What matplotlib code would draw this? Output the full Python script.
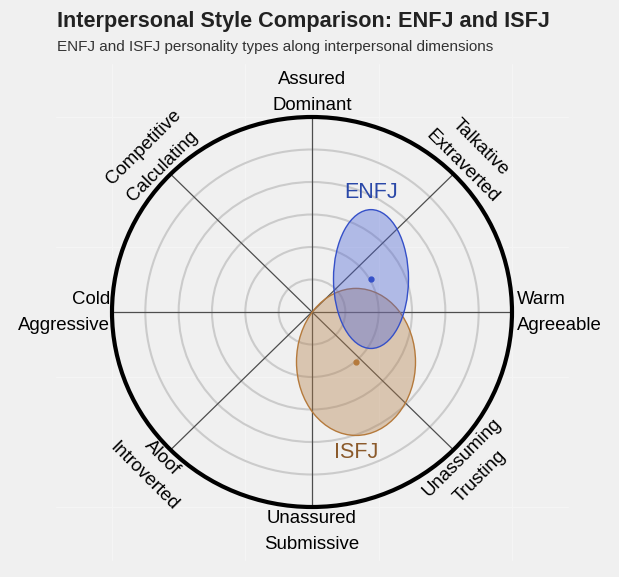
import numpy as np
import matplotlib
matplotlib.use('Agg')
import matplotlib.pyplot as plt
from matplotlib.patches import Ellipse

plt.rcParams['font.family'] = ['Liberation Sans', 'DejaVu Sans']

# personality types: centre and spread on the circumplex (outer ring = 1)
types = ['ENFJ', 'ISFJ']
center_x = [0.295, 0.22]
center_y = [0.169, -0.256]
spread_x = [0.1875, 0.2975]
spread_y = [0.356, 0.377]
fill_colors = ['#4a62d8', '#b5804a']
edge_colors = ['#3550c8', '#b57a3c']
label_colors = ['#2a48a8', '#8b5a2b']
label_y = [0.615, -0.718]

# octant labels (first line, second line) and their directions in degrees
axis_angles = [90, 45, 0, -45, -90, -135, 180, 135]
axis_lines1 = ['Assured', 'Talkative', 'Warm', 'Unassuming',
               'Unassured', 'Aloof', 'Cold', 'Competitive']
axis_lines2 = ['Dominant', 'Extraverted', 'Agreeable', 'Trusting',
               'Submissive', 'Introverted', 'Aggressive', 'Calculating']

ring_radii = [1/6, 2/6, 3/6, 4/6, 5/6]
bg = '#f0f0f0'

# pixels per data unit (panel is slightly flattened, as in the original)
sx, sy = 200, 195
cx, cy = 312, 312

fig = plt.figure(figsize=(6.19, 5.77), dpi=100)
fig.patch.set_facecolor(bg)
ax = fig.add_axes([0, 0, 1, 1])
ax.set_facecolor(bg)
ax.set_xlim(-cx / sx, (619 - cx) / sx)
ax.set_ylim((cy - 577) / sy, cy / sy)
ax.axis('off')

# faint panel grid in the background
for gx in [-1, -1/3, 1/3, 1]:
    ax.plot([gx, gx], [-1.27, 1.27], color='#f6f6f6', lw=0.6, zorder=0)
for gy in [-1, -1/3, 1/3, 1]:
    ax.plot([-1.28, 1.28], [gy, gy], color='#f6f6f6', lw=0.6, zorder=0)

# rings
for r in ring_radii:
    ax.add_patch(Ellipse((0, 0), 2 * r, 2 * r, fill=False, ec='#cbcbcb', lw=1.5, zorder=1))
ax.add_patch(Ellipse((0, 0), 2, 2, fill=False, ec='black', lw=3, zorder=4))

# spokes
for a in [0, 45, 90, 135]:
    t = np.radians(a)
    ax.plot([-np.cos(t), np.cos(t)], [-np.sin(t), np.sin(t)],
            color='#4d4d4d', lw=0.9, zorder=2)

# ellipses, ISFJ underneath
for i in [1, 0]:
    ax.add_patch(Ellipse((center_x[i], center_y[i]), 2 * spread_x[i], 2 * spread_y[i],
                         fc=fill_colors[i], alpha=0.38, ec='none', zorder=3))
    ax.add_patch(Ellipse((center_x[i], center_y[i]), 2 * spread_x[i], 2 * spread_y[i],
                         fill=False, ec=edge_colors[i], lw=1.0, zorder=3))
    ax.plot(center_x[i], center_y[i], 'o', ms=3.5, color=edge_colors[i], zorder=3)
    ax.text(center_x[i], label_y[i], types[i], color=label_colors[i],
            fontsize=15.5, ha='center', va='center', zorder=5)

# octant labels
r_mid = 1.125
half_gap = 13  # pixels
for ang, l1, l2 in zip(axis_angles, axis_lines1, axis_lines2):
    t = np.radians(ang)
    if ang in (0, 180):
        x0 = 1.025 if ang == 0 else -1.01
        ha = 'left' if ang == 0 else 'right'
        for txt, sgn in [(l1, 1), (l2, -1)]:
            ax.annotate(txt, xy=(x0, 0), xytext=(0, sgn * half_gap),
                        textcoords='offset pixels', fontsize=13.4, ha=ha, va='center')
        continue
    rot = ang - 90 if ang > 0 else ang + 90
    up = np.array([-np.sin(np.radians(rot)), np.cos(np.radians(rot))])
    c = (r_mid * np.cos(t), r_mid * np.sin(t))
    for txt, sgn in [(l1, 1), (l2, -1)]:
        off = sgn * up * half_gap
        ax.annotate(txt, xy=c, xytext=(off[0], off[1]), textcoords='offset pixels',
                    fontsize=13.4, ha='center', va='center',
                    rotation=rot, rotation_mode='anchor')

fig.text(57 / 619, 1 - 22 / 577, 'Interpersonal Style Comparison: ENFJ and ISFJ',
         fontsize=15.6, fontweight='bold', color='#222222', ha='left', va='center')
fig.text(57 / 619, 1 - 47 / 577,
         'ENFJ and ISFJ personality types along interpersonal dimensions',
         fontsize=11, color='#333333', ha='left', va='center')

fig.savefig('out.png', dpi=100, facecolor=bg)
